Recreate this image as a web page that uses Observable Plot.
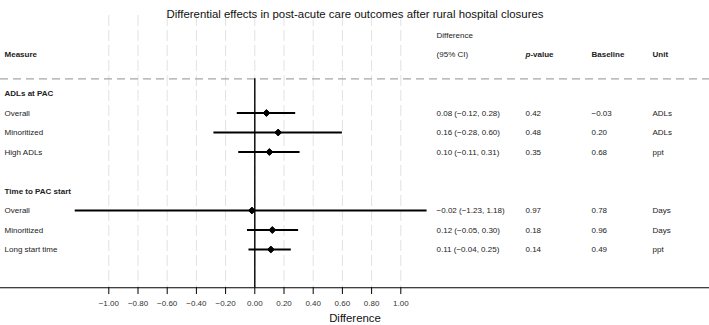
<!DOCTYPE html>
<html>
<head>
<meta charset="utf-8">
<script src="https://cdn.jsdelivr.net/npm/d3@7"></script>
<script src="https://cdn.jsdelivr.net/npm/@observablehq/plot@0.6"></script>
<style>
  body { margin: 0; background: #fff; }
  #chart svg { display: block; font-family: "Liberation Sans", Arial, Helvetica, sans-serif; }
</style>
</head>
<body>
<div id="chart"></div>
<script>
// Forest plot: differential effects in post-acute care (PAC) outcomes
const title = "Differential effects in post-acute care outcomes after rural hospital closures";
const groups = ["ADLs at PAC", "Time to PAC start"];
const groupOf = [0, 0, 0, 1, 1, 1];
const measures = ["Overall", "Minoritized", "High ADLs", "Overall", "Minoritized", "Long start time"];
const estimate = [0.08, 0.16, 0.10, -0.02, 0.12, 0.11];
const ciLow = [-0.12, -0.28, -0.11, -1.23, -0.05, -0.04];
const ciHigh = [0.28, 0.60, 0.31, 1.18, 0.30, 0.25];
const pValue = [0.42, 0.48, 0.35, 0.97, 0.18, 0.14];
const baseline = [-0.03, 0.20, 0.68, 0.78, 0.96, 0.49];
const units = ["ADLs", "ADLs", "ppt", "Days", "Days", "ppt"];
const xTicks = [-1.0, -0.8, -0.6, -0.4, -0.2, 0.0, 0.2, 0.4, 0.6, 0.8, 1.0];

// Table layout: vertical positions are row slots, horizontal ones are in difference units
const groupRow = [3, 8];
const firstRowOfGroup = [4, 9];
const headerLineRow = 2.25;
const axisRow = 12.96;
const colMeasure = -1.714;
const colDiff = 1.245;
const colP = 1.854;
const colBase = 2.306;
const colUnit = 2.724;

const f2 = d3.format(".2f");

const rows = measures.map((m, i) => {
  const g = groupOf[i];
  const slot = firstRowOfGroup[g] + groupOf.slice(0, i).filter(v => v === g).length;
  return {
    measure: m,
    row: slot,
    est: estimate[i],
    lo: ciLow[i],
    hi: ciHigh[i],
    diffLabel: `${f2(estimate[i])} (${f2(ciLow[i])}, ${f2(ciHigh[i])})`,
    p: f2(pValue[i]),
    base: f2(baseline[i]),
    unit: units[i]
  };
});
const groupRows = groups.map((g, i) => ({label: g, row: groupRow[i]}));

const xDomain = [-1.7418, 3.1144];
const xMid = (xDomain[0] + xDomain[1]) / 2;
const textFill = "#222";
const fs = 8;

const chart = Plot.plot({
  width: 709,
  height: 325,
  margin: 0,
  x: {domain: xDomain, range: [0, 709], axis: null},
  y: {domain: [-1.769, 14.897], range: [0, 325], axis: null},
  marks: [
    // light dashed gridlines
    Plot.ruleX(xTicks, {x: d => d, y1: -1, y2: axisRow, stroke: "#e2e2e2", strokeWidth: 1, strokeDasharray: "11,4"}),
    // dashed line under the column headers
    Plot.ruleY([headerLineRow], {stroke: "#a6a6a6", strokeWidth: 1.2, strokeDasharray: "8,5"}),
    // bottom axis line, ticks and labels
    Plot.ruleY([axisRow], {stroke: "#000", strokeWidth: 1.1}),
    Plot.ruleX(xTicks, {x: d => d, y1: axisRow, y2: 13.31, stroke: "#000", strokeWidth: 1}),
    Plot.text(xTicks, {x: d => d, y: 13.77, text: d => f2(d), fontSize: fs, fill: "#333"}),
    Plot.text(["Difference"], {x: xMid, y: 14.54, text: d => d, fontSize: 11.4, fill: "#111"}),
    // no-effect reference line
    Plot.ruleX([0], {y1: headerLineRow, y2: axisRow, stroke: "#000", strokeWidth: 1.4}),
    // confidence intervals and point estimates
    Plot.ruleY(rows, {y: "row", x1: "lo", x2: "hi", stroke: "#000", strokeWidth: 2}),
    Plot.dot(rows, {x: "est", y: "row", symbol: "diamond2", fill: "#000", stroke: "#000", strokeWidth: 1, r: 3.1}),
    // title
    Plot.text([title], {x: xMid, y: -1.05, text: d => d, fontSize: 11.4, fill: "#111"}),
    // column headers
    Plot.text(["Measure"], {x: colMeasure, y: 1, text: d => d, textAnchor: "start", fontSize: fs, fontWeight: "bold", fill: textFill}),
    Plot.text(["Difference"], {x: colDiff, y: 0, text: d => d, textAnchor: "start", fontSize: fs, fill: textFill}),
    Plot.text(["(95% CI)"], {x: colDiff, y: 1, text: d => d, textAnchor: "start", fontSize: fs, fill: textFill}),
    Plot.text(["p"], {x: colP, y: 1, text: d => d, textAnchor: "start", fontSize: fs, fontWeight: "bold", fontStyle: "italic", fill: textFill}),
    Plot.text(["-value"], {x: colP, y: 1, dx: 4.9, text: d => d, textAnchor: "start", fontSize: fs, fontWeight: "bold", fill: textFill}),
    Plot.text(["Baseline"], {x: colBase, y: 1, text: d => d, textAnchor: "start", fontSize: fs, fontWeight: "bold", fill: textFill}),
    Plot.text(["Unit"], {x: colUnit, y: 1, text: d => d, textAnchor: "start", fontSize: fs, fontWeight: "bold", fill: textFill}),
    // group headings
    Plot.text(groupRows, {x: colMeasure, y: "row", text: "label", textAnchor: "start", fontSize: fs, fontWeight: "bold", fill: textFill}),
    // table body
    Plot.text(rows, {x: colMeasure, y: "row", text: "measure", textAnchor: "start", fontSize: fs, fill: textFill}),
    Plot.text(rows, {x: colDiff, y: "row", text: "diffLabel", textAnchor: "start", fontSize: fs, fill: textFill}),
    Plot.text(rows, {x: colP, y: "row", text: "p", textAnchor: "start", fontSize: fs, fill: textFill}),
    Plot.text(rows, {x: colBase, y: "row", text: "base", textAnchor: "start", fontSize: fs, fill: textFill}),
    Plot.text(rows, {x: colUnit, y: "row", text: "unit", textAnchor: "start", fontSize: fs, fill: textFill})
  ]
});

document.getElementById("chart").appendChild(chart);
</script>
</body>
</html>
